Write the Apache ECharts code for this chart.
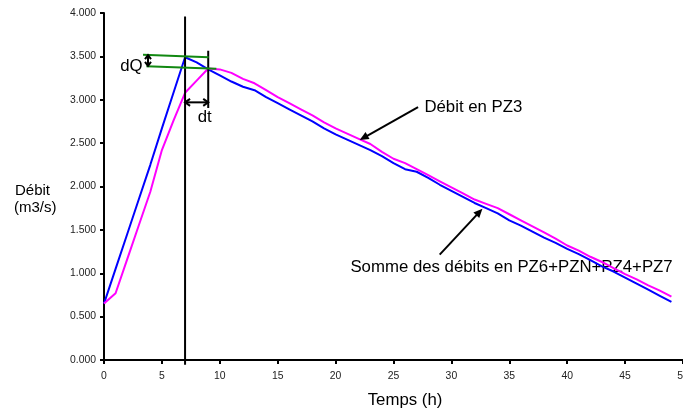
<!DOCTYPE html>
<html>
<head>
<meta charset="utf-8">
<script src="https://cdn.jsdelivr.net/npm/echarts@6/dist/echarts.min.js"></script>
<style>
  html, body { margin: 0; padding: 0; background: #fff; }
  #chart { width: 683px; height: 412px; }
</style>
</head>
<body>
<div id="chart"></div>
<script>
// Time in hours
const hours = [0, 1, 2, 3, 4, 5, 6, 7, 8, 9, 10, 11, 12, 13, 14, 15, 16, 17, 18, 19,
  20, 21, 22, 23, 24, 25, 26, 27, 28, 29, 30, 31, 32, 33, 34, 35, 36, 37, 38, 39,
  40, 41, 42, 43, 44, 45, 46, 47, 48, 49];

// Sum of the flows at PZ6 + PZN + PZ4 + PZ7 (m3/s)
const sommeDebits = [0.65, 1.05, 1.45, 1.85, 2.25, 2.67, 3.08, 3.49, 3.43, 3.35,
  3.28, 3.21, 3.15, 3.11, 3.03, 2.96, 2.89, 2.82, 2.75, 2.67,
  2.60, 2.54, 2.48, 2.42, 2.35, 2.27, 2.20, 2.17, 2.10, 2.02,
  1.95, 1.88, 1.81, 1.75, 1.69, 1.61, 1.55, 1.48, 1.41, 1.35,
  1.28, 1.22, 1.15, 1.08, 1.02, 0.95, 0.88, 0.81, 0.74, 0.67];

// Flow at PZ3 (m3/s)
const debitPZ3 = [0.65, 0.77, 1.16, 1.55, 1.94, 2.42, 2.76, 3.08, 3.22, 3.36,
  3.35, 3.31, 3.24, 3.19, 3.11, 3.03, 2.96, 2.89, 2.82, 2.74,
  2.67, 2.61, 2.55, 2.49, 2.40, 2.32, 2.27, 2.20, 2.13, 2.06,
  1.99, 1.92, 1.85, 1.80, 1.75, 1.68, 1.61, 1.54, 1.47, 1.40,
  1.32, 1.26, 1.19, 1.13, 1.06, 0.99, 0.93, 0.86, 0.80, 0.73];

// Axis ranges
const xRange = [0, 50, 5];
const yRange = [0, 4, 0.5];

const FONT = '"Liberation Sans", Arial, sans-serif';

const chart = echarts.init(document.getElementById('chart'), null, { renderer: 'canvas' });

const axisCommon = {
  axisLine: { show: true, onZero: false, lineStyle: { color: '#000', width: 2 } },
  axisTick: { show: true, inside: false, length: 4, lineStyle: { color: '#000', width: 2 } },
  splitLine: { show: false },
  axisLabel: { color: '#222', fontSize: 10.4, fontFamily: FONT, hideOverlap: false }
};

chart.setOption({
  animation: false,
  backgroundColor: '#fff',
  grid: { left: 104, right: 0, top: 13, bottom: 52, containLabel: false, outerBoundsMode: 'none' },
  xAxis: Object.assign({}, axisCommon, {
    type: 'value', min: xRange[0], max: xRange[1], interval: xRange[2],
    axisLabel: Object.assign({}, axisCommon.axisLabel, { margin: 11, showMaxLabel: true })
  }),
  yAxis: Object.assign({}, axisCommon, {
    type: 'value', min: yRange[0], max: yRange[1], interval: yRange[2],
    axisLabel: Object.assign({}, axisCommon.axisLabel, {
      margin: 8, formatter: v => v.toFixed(3)
    })
  }),
  series: [
    {
      name: 'Somme des débits en PZ6+PZN+PZ4+PZ7',
      type: 'line',
      data: hours.map((h, i) => [h, sommeDebits[i]]),
      symbol: 'none',
      clip: false,
      lineStyle: { color: '#0000ff', width: 2 },
      z: 3
    },
    {
      name: 'Débit en PZ3',
      type: 'line',
      data: hours.map((h, i) => [h, debitPZ3[i]]),
      symbol: 'none',
      clip: false,
      lineStyle: { color: '#ff00ff', width: 2 },
      z: 4
    }
  ]
});

// ---- annotations, placed in data units and converted to pixels ----
const P = (t, v) => chart.convertToPixel({ gridIndex: 0 }, [t, v]);

function seg(a, b, color, width) {
  return {
    type: 'line', z: 5,
    shape: { x1: a[0], y1: a[1], x2: b[0], y2: b[1] },
    style: { stroke: color, lineWidth: width }
  };
}

// straight arrow with a filled triangular head at "to"
function filledArrow(from, to, len, half) {
  const dx = to[0] - from[0], dy = to[1] - from[1];
  const d = Math.hypot(dx, dy), ux = dx / d, uy = dy / d;
  const bx = to[0] - ux * len, by = to[1] - uy * len;
  return [
    seg(from, [bx + ux, by + uy], '#000', 2),
    {
      type: 'polygon', z: 5,
      shape: { points: [to, [bx - uy * half, by + ux * half], [bx + uy * half, by - ux * half]] },
      style: { fill: '#000' }
    }
  ];
}

// double-headed arrow with open chevron heads
function doubleArrow(a, b, len, half) {
  const dx = b[0] - a[0], dy = b[1] - a[1];
  const d = Math.hypot(dx, dy), ux = dx / d, uy = dy / d;
  const head = (p, sx, sy) => ({
    type: 'polyline', z: 5,
    shape: { points: [
      [p[0] + sx * len - uy * half, p[1] + sy * len + ux * half],
      p,
      [p[0] + sx * len + uy * half, p[1] + sy * len - ux * half]
    ] },
    style: { stroke: '#000', lineWidth: 2, fill: null }
  });
  return [seg(a, b, '#000', 2), head(a, ux, uy), head(b, -ux, -uy)];
}

function label(text, pos, size, align) {
  return {
    type: 'text', z: 1,
    style: {
      text: text, x: pos[0], y: pos[1],
      font: size + 'px ' + FONT, fill: '#000',
      align: align, verticalAlign: 'middle',
      textAlign: align, textVerticalAlign: 'middle'
    }
  };
}

const g = [];
// peak markers
g.push(seg(P(7, 3.96), P(7, -0.055), '#000', 2));
g.push(seg(P(9, 3.565), P(9, 2.905), '#000', 2));
g.push(seg(P(3.37, 3.52), P(9.04, 3.49), '#118811', 2));
g.push(seg(P(3.66, 3.385), P(9.7, 3.357), '#118811', 2));
g.push(...doubleArrow(P(3.8, 3.515), P(3.8, 3.39), 4, 3));
g.push(...doubleArrow(P(7, 2.97), P(9, 2.97), 5, 3.5));
g.push(label('dQ', P(3.34, 3.381), 16.8, 'right'));
g.push(label('dt', P(8.7, 2.793), 16.8, 'center'));

// callouts
g.push(...filledArrow(P(27.12, 2.916), P(22.08, 2.536), 9, 4));
g.push(label('Débit en PZ3', P(27.67, 2.916), 16.8, 'left'));
g.push(...filledArrow(P(28.99, 1.214), P(32.68, 1.744), 9, 4));
g.push(label('Somme des débits en PZ6+PZN+PZ4+PZ7', P(21.28, 1.072), 16.8, 'left'));

// axis titles
g.push(label('Débit', [15, 191], 15, 'left'));
g.push(label('(m3/s)', [14, 208], 15, 'left'));
g.push(label('Temps (h)', [405, 400], 16.8, 'center'));

chart.setOption({ graphic: g });
</script>
</body>
</html>
